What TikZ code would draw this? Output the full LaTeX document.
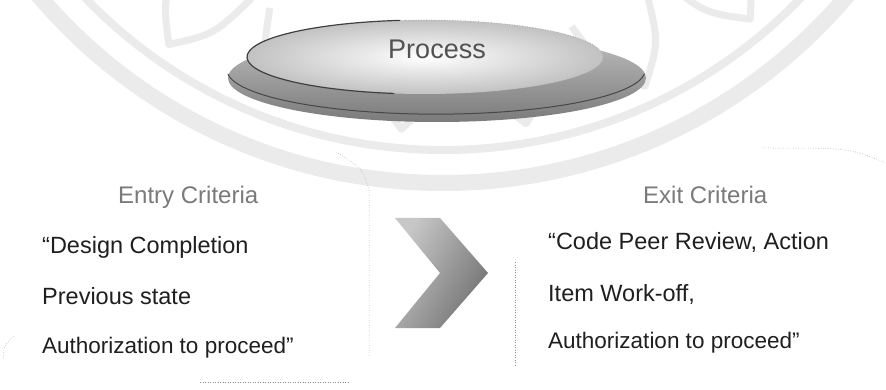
\documentclass[tikz,border=0pt]{standalone}
\usepackage{fontspec}
\setmainfont{Liberation Sans}
\usetikzlibrary{calc}
\begin{document}
\begin{tikzpicture}[x=1pt,y=-1pt,
  wm/.style={draw=black!8},
  wmpetal/.style={draw=black!8,line width=7pt,line join=round},
  scan/.style={draw=black!45,line width=0.5pt,dotted},
  heading/.style={anchor=base west,inner sep=0pt,text=black!52,font=\fontsize{24}{28}\selectfont},
  bodytext/.style={anchor=base west,inner sep=0pt,text=black!88,font=\fontsize{23.5}{28}\selectfont},
  bodyshort/.style={bodytext,font=\fontsize{22.5}{28}\selectfont},
]
\useasboundingbox (0,0) rectangle (886,390);
\fill[white] (0,0) rectangle (886,390);

% faint seal in the background
\coordinate (sealC) at (443,-347);
\draw[wm,line width=16pt] (sealC) circle (530);
\draw[wm,line width=8pt] (sealC) circle (497);
\foreach \a in {35,50,65,80,95,110,125,140} {
  \draw[wmpetal] ($(sealC)+(\a-6:395)$) .. controls ($(sealC)+(\a-4:445)$) .. ($(sealC)+(\a:478)$)
                 .. controls ($(sealC)+(\a+4:445)$) .. ($(sealC)+(\a+6:395)$);
}

% process disc: rim, then top face
\shade[top color=black!25,bottom color=black!52] (437,78) ellipse [x radius=209,y radius=44];
\draw[black!72,line width=1pt] (228,74) arc [start angle=175,end angle=5,x radius=209,y radius=44];
\shade[inner color=white,outer color=black!24] (425,57) ellipse [x radius=178,y radius=37];
\draw[black!75,line width=1.2pt] (425,57) ++(100:178 and 37) arc [start angle=100,end angle=262,x radius=178,y radius=37];
\draw[black!40,line width=0.6pt,dotted] (425,57) ++(262:178 and 37) arc [start angle=262,end angle=350,x radius=178,y radius=37];
\node[text=black!68,font=\fontsize{27}{30}\selectfont,anchor=base,inner sep=0pt] (proc) at (437,59) {Process};

% faint dotted outlines
\coordinate (s1) at (336,152);
\coordinate (s2) at (369,190);
\coordinate (s3) at (369,356);
\draw[scan] (s1) .. controls (362,168) .. (s2) -- (s3);
\coordinate (s4) at (515,262);
\coordinate (s5) at (515,366);
\draw[scan] (s4) -- (s5);
\coordinate (s6) at (763,148);
\coordinate (s7) at (886,163);
\draw[scan] (s6) .. controls (850,148) .. (s7);
\coordinate (s8) at (14,336);
\coordinate (s9) at (3,360);
\draw[scan] (s8) .. controls (4,345) .. (s9);
\coordinate (s10) at (200,382);
\coordinate (s11) at (350,382);
\draw[scan] (s10) -- (s11);

% chevron between the two columns
\shade[left color=black!22,right color=black!55,shading angle=60]
  (395,218) -- (440,218) -- (488,273) -- (440,328) -- (395,328) -- (440,273) -- cycle;

% entry column
\node[heading] (entryh) at (118,204) {Entry Criteria};
\node[bodytext] (e1) at (42,254) {“Design Completion};
\node[bodytext] (e2) at (42,304) {Previous state};
\node[bodyshort] (e3) at (42,353) {Authorization to proceed”};

% exit column
\node[heading] (exith) at (643,204) {Exit Criteria};
\node[bodytext] (x1) at (548,250) {“Code Peer Review, Action};
\node[bodytext] (x2) at (548,301) {Item Work-off,};
\node[bodyshort] (x3) at (548,348) {Authorization to proceed”};
\end{tikzpicture}
\end{document}
